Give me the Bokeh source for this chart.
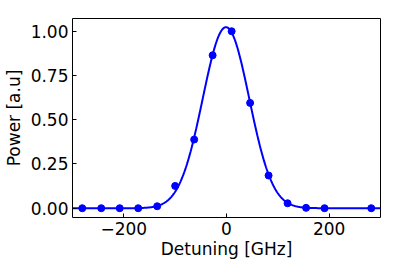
import numpy as np
from bokeh.plotting import figure
from bokeh.models import Range1d, FixedTicker
from bokeh.embed import file_html
from bokeh.resources import INLINE

# Measured points
detuning = [-281, -244, -208, -172, -135, -100, -63, -27, 10, 46, 82, 119, 155, 191, 282]
power = [0.0, 0.0, 0.0, 0.0, 0.011, 0.126, 0.388, 0.864, 1.0, 0.595, 0.185, 0.028, 0.002, 0.0, 0.0]

x_ticks = [-200, 0, 200]
y_ticks = [0.0, 0.25, 0.5, 0.75, 1.0]
y_tick_labels = {0.0: "0.00", 0.25: "0.25", 0.5: "0.50", 0.75: "0.75", 1.0: "1.00"}

# Gaussian least-squares fit of the measured points (Gauss-Newton)
xd = np.array(detuning, dtype=float)
yd = np.array(power, dtype=float)
params = np.array([1.0, 0.0, 50.0])
for _ in range(100):
    a, mu, s = params
    e = np.exp(-(xd - mu) ** 2 / (2 * s ** 2))
    r = yd - a * e
    J = np.column_stack([e, a * e * (xd - mu) / s ** 2, a * e * (xd - mu) ** 2 / s ** 3])
    dp, *_ = np.linalg.lstsq(J, r, rcond=None)
    params = params + dp
a, mu, s = params
x_fit = np.linspace(-300, 300, 601)
y_fit = a * np.exp(-(x_fit - mu) ** 2 / (2 * s ** 2))

FONT = "DejaVu Sans"
p = figure(width=412, height=272, output_backend="svg", toolbar_location=None,
           x_range=Range1d(-300, 300), y_range=Range1d(-0.0525, 1.072),
           min_border_left=70, min_border_right=32, min_border_top=18, min_border_bottom=55)

p.line(x_fit, y_fit, line_color="#0000ff", line_width=2)
p.scatter(detuning, power, size=7, fill_color="#0000ff", line_color="#0000ff")

p.xgrid.visible = False
p.ygrid.visible = False
p.outline_line_color = "black"
p.outline_line_width = 1
p.background_fill_color = "white"
p.border_fill_color = "white"

p.xaxis.ticker = FixedTicker(ticks=x_ticks)
p.yaxis.ticker = FixedTicker(ticks=y_ticks)
p.yaxis.major_label_overrides = y_tick_labels
p.xaxis.axis_label = "Detuning [GHz]"
p.yaxis.axis_label = "Power [a.u]"

for ax in (p.xaxis[0], p.yaxis[0]):
    ax.axis_line_color = None
    ax.major_tick_in = 4
    ax.major_tick_out = 0
    ax.major_tick_line_color = "black"
    ax.minor_tick_line_color = None
    ax.major_label_text_font = FONT
    ax.major_label_text_font_size = "17px"
    ax.major_label_text_color = "black"
    ax.axis_label_text_font = FONT
    ax.axis_label_text_font_size = "17px"
    ax.axis_label_text_font_style = "normal"
    ax.axis_label_text_color = "black"
    ax.major_label_standoff = 4
    ax.axis_label_standoff = 4
p.xaxis[0].axis_label_standoff = 1

open("out.html", "w").write(file_html(p, INLINE))
